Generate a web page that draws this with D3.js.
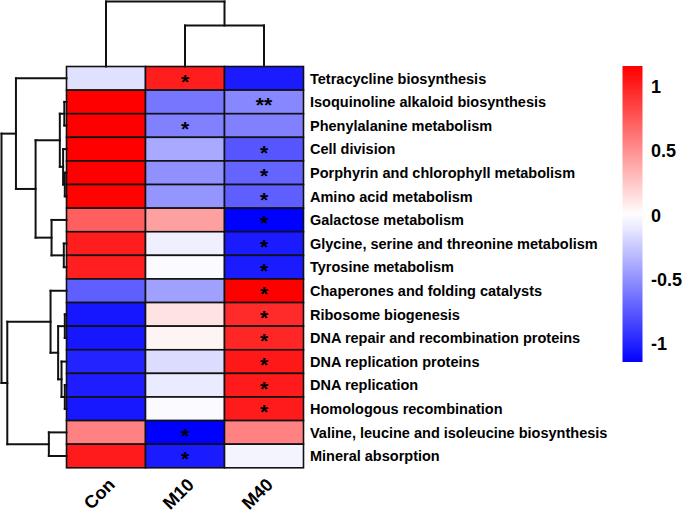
<!DOCTYPE html>
<html>
<head>
<meta charset="utf-8">
<script src="https://cdn.jsdelivr.net/npm/d3@7"></script>
<style>
  html, body { margin: 0; padding: 0; background: #fff; }
  svg { display: block; }
  text { font-family: "Liberation Sans", Arial, Helvetica, sans-serif; fill: #000; }
</style>
</head>
<body>
<svg id="chart" width="685" height="512"></svg>
<script>
// ---------------- data ----------------
const columns = ["Con", "M10", "M40"];
const rows = [
  "Tetracycline biosynthesis",
  "Isoquinoline alkaloid biosynthesis",
  "Phenylalanine metabolism",
  "Cell division",
  "Porphyrin and chlorophyll metabolism",
  "Amino acid metabolism",
  "Galactose metabolism",
  "Glycine, serine and threonine metabolism",
  "Tyrosine metabolism",
  "Chaperones and folding catalysts",
  "Ribosome biogenesis",
  "DNA repair and recombination proteins",
  "DNA replication proteins",
  "DNA replication",
  "Homologous recombination",
  "Valine, leucine and isoleucine biosynthesis",
  "Mineral absorption"
];
// z-scores per column
const conValues = [-0.14, 1.15, 1.15, 1.15, 1.15, 1.14, 0.72, 1.02, 1.01, -0.72, -1.05, -1.05, -0.99, -1.02, -1.04, 0.57, 1.03];
const m10Values = [1.02, -0.62, -0.57, -0.39, -0.50, -0.48, 0.43, -0.07, -0.02, -0.43, 0.13, 0.05, -0.16, -0.09, -0.02, -1.15, -1.03];
const m40Values = [-1.03, -0.54, -0.57, -0.76, -0.70, -0.72, -1.15, -1.03, -1.03, 1.15, 0.96, 0.98, 1.04, 1.03, 1.03, 0.57, -0.05];
// significance marks
const conStars = ["", "", "", "", "", "", "", "", "", "", "", "", "", "", "", "", ""];
const m10Stars = ["*", "", "*", "", "", "", "", "", "", "", "", "", "", "", "", "*", "*"];
const m40Stars = ["", "**", "", "*", "*", "*", "*", "*", "*", "*", "*", "*", "*", "*", "*", "", ""];
// colour-bar ticks
const legendTicks = [1, 0.5, 0, -0.5, -1];
const legendTickLabels = ["1", "0.5", "0", "-0.5", "-1"];
const legendDomain = [-1.14, 1.16];
// dendrograms: [childA, childB, height]; indices >= n refer to earlier merges
const rowMerges = [
  [1, 2, 2.2], [4, 5, 1.7], [3, 18, 3.4], [17, 19, 6.7],
  [7, 8, 2.7], [6, 21, 15], [20, 22, 31], [0, 23, 50.7],
  [10, 11, 1.7], [13, 14, 1.7], [12, 26, 5], [25, 27, 8.4],
  [9, 28, 16], [15, 16, 17.7], [29, 30, 59.4], [24, 31, 65.2]
];
const colMerges = [[1, 2, 41], [0, 3, 65]];

// ---------------- layout ----------------
const svg = d3.select("#chart");
const hm = { left: 66.5, right: 303.5, top: 66.5, bottom: 467.8 };

const values = [conValues, m10Values, m40Values];
const stars = [conStars, m10Stars, m40Stars];

const x = d3.scaleBand().domain(columns).range([hm.left, hm.right]).padding(0);
const y = d3.scaleBand().domain(rows).range([hm.top, hm.bottom]).padding(0);
const color = d3.scaleLinear().domain([-1.15, 0, 1.15]).range(["#0000ff", "#ffffff", "#ff0000"]).clamp(true);

// cells
const cells = [];
columns.forEach((c, ci) => rows.forEach((r, ri) => cells.push({ c, r, v: values[ci][ri], s: stars[ci][ri] })));

svg.append("g").selectAll("rect").data(cells).join("rect")
  .attr("x", d => x(d.c)).attr("y", d => y(d.r))
  .attr("width", x.bandwidth()).attr("height", y.bandwidth())
  .attr("fill", d => color(d.v))
  .attr("stroke", "#111").attr("stroke-width", 1.6);

svg.append("g").selectAll("text").data(cells.filter(d => d.s)).join("text")
  .attr("x", d => x(d.c) + x.bandwidth() / 2)
  .attr("y", d => y(d.r) + y.bandwidth() / 2 + 10.5)
  .attr("text-anchor", "middle")
  .style("font-size", "21px").style("font-weight", "bold")
  .text(d => d.s);

// row labels
svg.append("g").selectAll("text").data(rows).join("text")
  .attr("x", hm.right + 6.5)
  .attr("y", d => y(d) + y.bandwidth() / 2)
  .attr("dy", "0.36em")
  .style("font-size", "14.5px").style("font-weight", "bold")
  .text(d => d);

// column labels
svg.append("g").selectAll("text").data(columns).join("text")
  .attr("transform", d => `translate(${x(d) + x.bandwidth() / 2 + 10},${hm.bottom + 18}) rotate(-45)`)
  .attr("text-anchor", "end")
  .style("font-size", "18px").style("font-weight", "bold")
  .text(d => d);

// dendrogram drawing helper
function dendro(merges, nLeaves, leafPos, hScale, vertical) {
  const pos = [], hgt = [];
  for (let i = 0; i < nLeaves; i++) { pos.push(leafPos(i)); hgt.push(0); }
  const segs = [];
  merges.forEach(m => {
    const [a, b, h] = m;
    const p = (pos[a] + pos[b]) / 2;
    segs.push([pos[a], hgt[a], pos[a], h]);
    segs.push([pos[b], hgt[b], pos[b], h]);
    segs.push([pos[a], h, pos[b], h]);
    pos.push(p); hgt.push(h);
  });
  const g = svg.append("g").attr("stroke", "#111").attr("stroke-width", 2).attr("fill", "none")
    .attr("stroke-linecap", "square");
  g.selectAll("line").data(segs).join("line")
    .attr(vertical ? "x1" : "y1", d => d[0])
    .attr(vertical ? "y1" : "x1", d => hScale(d[1]))
    .attr(vertical ? "x2" : "y2", d => d[2])
    .attr(vertical ? "y2" : "x2", d => hScale(d[3]));
}

const rowH = d3.scaleLinear().domain([0, 65.2]).range([hm.left, 1.5]);
dendro(rowMerges, rows.length, i => y(rows[i]) + y.bandwidth() / 2, rowH, false);

const colH = d3.scaleLinear().domain([0, 65]).range([hm.top, 1.5]);
dendro(colMerges, columns.length, i => x(columns[i]) + x.bandwidth() / 2, colH, true);

// colour bar
const ly = d3.scaleLinear().domain(legendDomain).range([362, 66]);
const defs = svg.append("defs");
const grad = defs.append("linearGradient").attr("id", "cbar")
  .attr("x1", 0).attr("y1", 1).attr("x2", 0).attr("y2", 0);
d3.range(0, 1.0001, 0.05).forEach(t => {
  const v = legendDomain[0] + t * (legendDomain[1] - legendDomain[0]);
  grad.append("stop").attr("offset", t).attr("stop-color", color(v));
});
svg.append("rect").attr("x", 622.5).attr("y", ly(legendDomain[1]))
  .attr("width", 20).attr("height", ly(legendDomain[0]) - ly(legendDomain[1]))
  .attr("fill", "url(#cbar)");

svg.append("g").selectAll("text").data(legendTicks).join("text")
  .attr("x", 651)
  .attr("y", d => ly(d))
  .attr("dy", "0.36em")
  .style("font-size", "18px").style("font-weight", "bold")
  .text((d, i) => legendTickLabels[i]);
</script>
</body>
</html>
